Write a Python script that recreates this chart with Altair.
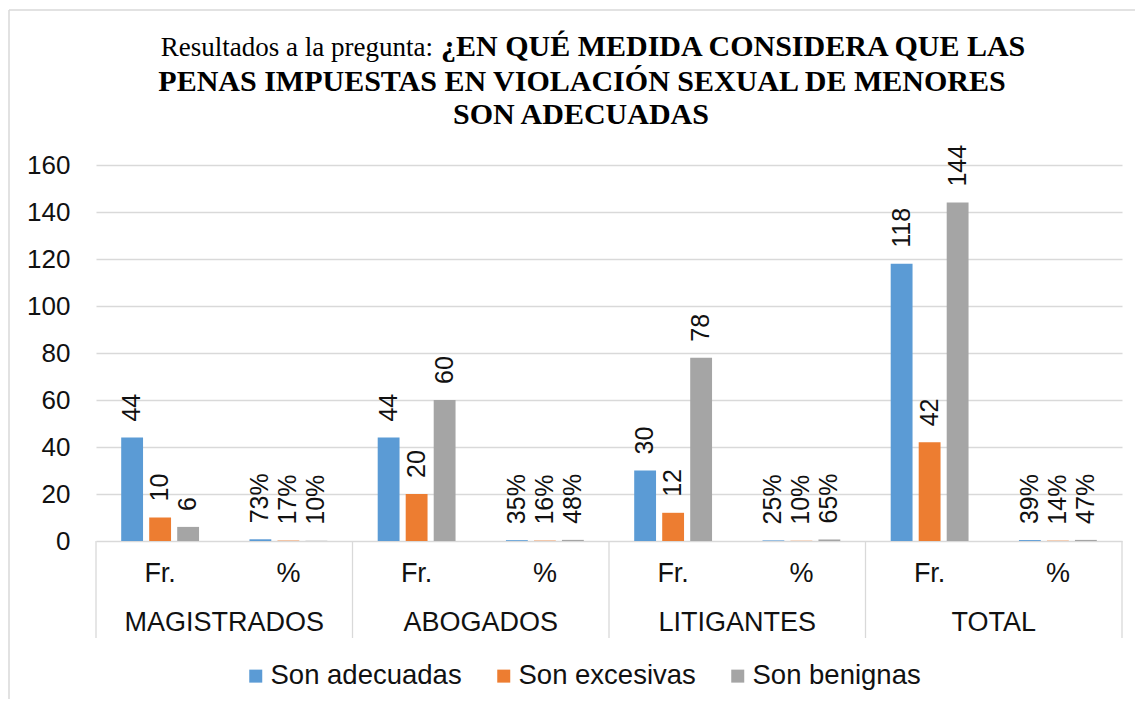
import altair as alt
import pandas as pd

# ---- data ----
groups = ["MAGISTRADOS", "ABOGADOS", "LITIGANTES", "TOTAL"]
measures = ["Fr.", "%"]
series = ["Son adecuadas", "Son excesivas", "Son benignas"]
colors = ["#5B9BD5", "#ED7D31", "#A5A5A5"]

fr_adecuadas = [44, 44, 30, 118]
fr_excesivas = [10, 20, 12, 42]
fr_benignas = [6, 60, 78, 144]

pct_adecuadas = [0.73, 0.35, 0.25, 0.39]
pct_excesivas = [0.17, 0.16, 0.10, 0.14]
pct_benignas = [0.10, 0.48, 0.65, 0.47]

y_ticks = [0, 20, 40, 60, 80, 100, 120, 140, 160]

title_line1_normal = "Resultados a la pregunta:"
title_line1_bold = "¿EN QUÉ MEDIDA CONSIDERA QUE LAS"
title_line2 = "PENAS IMPUESTAS EN VIOLACIÓN SEXUAL DE MENORES"
title_line3 = "SON ADECUADAS"

# ---- tables ----
slot_order = [f"{g}|{m}" for g in groups for m in measures]
fr_vals = [fr_adecuadas, fr_excesivas, fr_benignas]
pct_vals = [pct_adecuadas, pct_excesivas, pct_benignas]

rows = []
for gi, g in enumerate(groups):
    for si, s in enumerate(series):
        v = fr_vals[si][gi]
        rows.append({"slot": f"{g}|Fr.", "series": s, "value": v, "label": str(v)})
        p = pct_vals[si][gi]
        rows.append({"slot": f"{g}|%", "series": s, "value": p, "label": f"{round(p * 100)}%"})
df = pd.DataFrame(rows)

df_measure = pd.DataFrame([{"slot": f"{g}|{m}", "text": m} for g in groups for m in measures])
df_group = pd.DataFrame([{"slot": f"{g}|{measures[0]}", "text": g} for g in groups])
df_last = pd.DataFrame([{"slot": slot_order[-1]}])
one = pd.DataFrame([{"k": 0}])

FONT = "Liberation Sans"
SERIF = "Liberation Serif"
GRID = "#D9D9D9"

xscale = alt.Scale(domain=slot_order, paddingInner=0, paddingOuter=0)
xenc = alt.X("slot:N", sort=slot_order, scale=xscale, axis=None)
xoff = alt.XOffset("series:N", sort=series,
                   scale=alt.Scale(domain=series, paddingInner=0.22, paddingOuter=0.9))
yenc = alt.Y("value:Q",
             scale=alt.Scale(domain=[0, 160], nice=False, zero=True),
             axis=alt.Axis(values=y_ticks, title=None, domain=False, ticks=False,
                           grid=True, gridColor=GRID, gridWidth=1.3,
                           labelFont=FONT, labelFontSize=26, labelColor="#111111",
                           labelPadding=26))

bars = alt.Chart(df).mark_bar().encode(
    x=xenc, xOffset=xoff, y=yenc,
    color=alt.Color("series:N", sort=series,
                    scale=alt.Scale(domain=series, range=colors),
                    legend=alt.Legend(title=None, orient="none", direction="horizontal",
                                      legendX=146, legendY=497,
                                      symbolType="square", symbolSize=169,
                                      symbolStrokeWidth=0, labelFont=FONT,
                                      labelFontSize=27.5, labelColor="#111111",
                                      labelOffset=1, columnPadding=28,
                                      labelLimit=400)),
)

labels = alt.Chart(df).mark_text(angle=270, align="left", baseline="middle", dx=16,
                                 font=FONT, fontSize=25, color="#111111").encode(
    x=xenc, xOffset=xoff, y=alt.Y("value:Q"), text="label:N"
)

sep_left = alt.Chart(df_group).mark_rule(color=GRID, strokeWidth=1.3).encode(
    x=alt.X("slot:N", sort=slot_order, scale=xscale, axis=None, bandPosition=0),
    y=alt.value(376), y2=alt.value(473)
)
sep_right = alt.Chart(df_last).mark_rule(color=GRID, strokeWidth=1.3).encode(
    x=alt.X("slot:N", sort=slot_order, scale=xscale, axis=None, bandPosition=1),
    y=alt.value(376), y2=alt.value(473)
)

measure_text = alt.Chart(df_measure).mark_text(font=FONT, fontSize=27, color="#111111",
                                               baseline="alphabetic", align="center").encode(
    x=alt.X("slot:N", sort=slot_order, scale=xscale, axis=None, bandPosition=0.5),
    y=alt.value(417), text="text:N"
)
group_text = alt.Chart(df_group).mark_text(font=FONT, fontSize=27, color="#111111",
                                           baseline="alphabetic", align="center").encode(
    x=alt.X("slot:N", sort=slot_order, scale=xscale, axis=None, bandPosition=1),
    y=alt.value(466), text="text:N"
)

t1a = alt.Chart(one).mark_text(font=SERIF, fontSize=27, align="right", baseline="alphabetic",
                               color="#000000").encode(
    x=alt.value(337), y=alt.value(-109), text=alt.value(title_line1_normal))
t1b = alt.Chart(one).mark_text(font=SERIF, fontSize=30, fontWeight="bold", align="left",
                               baseline="alphabetic", color="#000000").encode(
    x=alt.value(345), y=alt.value(-109), text=alt.value(title_line1_bold))
t2 = alt.Chart(one).mark_text(font=SERIF, fontSize=30, fontWeight="bold", align="center",
                              baseline="alphabetic", color="#000000").encode(
    x=alt.value(486), y=alt.value(-74), text=alt.value(title_line2))
t3 = alt.Chart(one).mark_text(font=SERIF, fontSize=30, fontWeight="bold", align="center",
                              baseline="alphabetic", color="#000000").encode(
    x=alt.value(485), y=alt.value(-41), text=alt.value(title_line3))

border_top = alt.Chart(one).mark_rule(color=GRID, strokeWidth=1.5).encode(
    x=alt.value(-87), x2=alt.value(1060), y=alt.value(-155))
border_left = alt.Chart(one).mark_rule(color=GRID, strokeWidth=1.5).encode(
    x=alt.value(-87), y=alt.value(-155), y2=alt.value(540))

chart = alt.layer(
    border_top, border_left, bars, labels, sep_left, sep_right,
    measure_text, group_text, t1a, t1b, t2, t3
).properties(
    width=1026, height=376,
    autosize=alt.AutoSizeParams(type="none"),
    padding={"left": 88, "top": 157, "right": 13, "bottom": 158},
    background="white",
).configure_view(stroke=None)

chart.save("out.html", embed_options={"renderer": "svg", "actions": False})
